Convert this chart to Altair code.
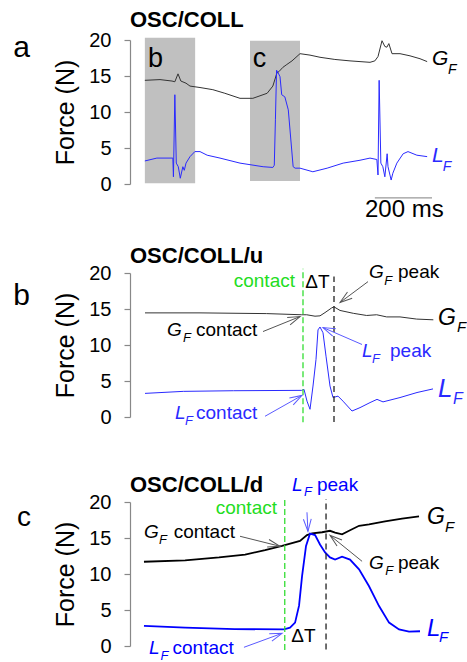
import math
import altair as alt
import pandas as pd

FONT = "Liberation Sans"
W, H = 310, 144          # plot area of every panel
FMAX = 20                # force axis 0..20 N

BLACK = "#000000"
DARK = "#333333"
BLUE = "#2a2aff"
BLUE_C = "#0000ff"
GREEN = "#22dd22"
GRAY_ARROW = "#555555"
BLUE_ARROW = "#5a5aff"

# ---------------- panel a : whole trial (time in ms) ----------------
A_XMAX = 1085
A_GF_T = [52, 105, 147, 157, 168, 178, 196, 210, 245, 290, 332, 385, 430, 480, 500, 514,
          521, 535, 549, 567, 595, 630, 665, 717, 770, 840, 857, 868, 882, 892, 899, 906,
          917, 945, 980, 1015, 1040]
A_GF_F = [14.4, 14.5, 14.3, 14.2, 15.3, 14.3, 14.0, 13.6, 13.4, 13.1, 12.6, 11.9, 11.9, 12.6,
          13.6, 15.4, 15.6, 16.2, 16.6, 17.1, 18.1, 17.9, 17.6, 17.3, 17.1, 16.9, 17.1, 17.7,
          19.9, 19.1, 19.0, 19.5, 18.1, 18.1, 17.8, 17.4, 17.0]
A_LF_T = [52, 94, 150, 152, 157, 162, 169, 176, 185, 190, 196, 210, 227, 245, 270, 315, 385,
          466, 500, 505, 509, 513, 519, 525, 531, 542, 554, 571, 578, 595, 640, 690, 746,
          805, 840, 864, 868, 872, 878, 885, 892, 900, 903, 914, 920, 934, 956, 973, 1004,
          1040]
A_LF_F = [3.2, 3.6, 3.6, 1.0, 12.4, 2.9, 2.4, 0.8, 2.4, 1.9, 2.9, 3.8, 4.5, 4.5, 4.0, 3.6,
          2.9, 2.4, 2.3, 2.6, 9.0, 15.8, 15.4, 14.9, 12.4, 12.1, 10.3, 2.4, 2.2, 2.2, 1.7,
          2.2, 2.9, 3.3, 3.6, 3.4, 1.25, 14.4, 2.9, 2.4, 1.0, 4.2, 2.4, 0.55, 1.5, 2.9, 4.2,
          4.5, 4.0, 3.8]
# shaded windows that are enlarged in panels b and c
A_BOX_T0 = [52, 420]
A_BOX_T1 = [228, 595]
A_BOX_F0 = [0.1, 0.4]
A_BOX_F1 = [20.3, 19.9]
# 200 ms scale bar
A_BAR_T = [857, 1057]
A_BAR_F = -1.94

# ---------------- panel b : upward collision (ms) ----------------
B_XMAX = 186
B_GF_T = [9, 42, 82, 103, 106, 111, 114, 117, 121, 122.4, 126, 134, 142, 148, 154, 162, 172, 182]
B_GF_F = [14.46, 14.46, 14.36, 14.2, 14.2, 14.0, 14.05, 14.5, 15.15, 15.3, 14.8, 14.4, 14.1,
          14.2, 13.9, 13.9, 13.6, 13.5]
B_LF_T = [9, 32, 62, 103, 104.4, 106.2, 108, 109.8, 111.6, 112.8, 114, 115.8, 117.6, 120,
          121.8, 124.8, 127.8, 133.2, 138, 144, 148.2, 151.8, 162, 172.2, 181.8]
B_LF_F = [3.28, 3.56, 3.65, 3.7, 3.84, 2.2, 1.07, 4.3, 8.0, 12.1, 12.5, 11.7, 8.45, 4.3, 2.7,
          2.9, 2.2, 0.83, 1.3, 2.0, 2.45, 2.1, 2.7, 3.4, 3.9]
B_CONTACT_T = 103.8
B_PEAK_T = 122.4

# ---------------- panel c : downward collision (ms) ----------------
C_XMAX = 195.3
C_GF_T = [8.8, 34.7, 56.1, 72.5, 85.1, 95.8, 107.1, 111.5, 114.7, 121, 126, 129.2, 133.6,
          138, 144.3, 150.6, 160.7, 171.4, 182.1]
C_GF_F = [11.7, 11.9, 12.3, 12.7, 13.3, 13.9, 14.6, 15.4, 15.65, 15.8, 16.0, 15.75, 15.5,
          16.0, 16.7, 16.9, 17.3, 17.7, 18.0]
C_LF_T = [8.8, 34.7, 66, 97, 100.8, 104, 106.5, 108.4, 110.9, 113.4, 116.6, 119.7, 122.9,
          126, 129.2, 133.6, 138.6, 144.3, 150.6, 156.9, 163.2, 169.5, 175.8, 182.7]
C_LF_F = [2.8, 2.55, 2.35, 2.3, 2.55, 3.25, 5.6, 9.7, 13.9, 15.6, 15.4, 14.1, 13.0, 12.3,
          12.0, 12.4, 12.0, 10.65, 8.3, 5.55, 3.25, 2.3, 2.0, 2.05]
C_CONTACT_T = 97.5
C_PEAK_T = 123.5

# annotation texts: (time, force, text, colour, font size, kind)
# kind: b = bold, n = normal, i = italic, r = right aligned, c = centred
A_TEXT = [
    (0, 21.8, "OSC/COLL", BLACK, 22, "b"),
    (-409, 17.6, "a", BLACK, 30, "n"),
    (63, 16.25, "b", BLACK, 27, "n"),
    (430, 16.25, "c", BLACK, 27, "n"),
    (1057, 16.5, "G", BLACK, 21, "i"), (1113, 15.3, "F", BLACK, 14, "i"),
    (1057, 3.06, "L", BLUE, 21, "i"), (1095, 1.8, "F", BLUE, 14, "i"),
    (960, -4.54, "200 ms", BLACK, 24, "c"),
]
B_TEXT = [
    (0, 21.43, "OSC/COLL/u", BLACK, 22, "b"),
    (-70, 15.6, "b", BLACK, 30, "n"),
    (99, 18.1, "contact", GREEN, 19, "r"),
    (112.5, 17.96, "ΔT", BLACK, 19, "c"),
    (143.4, 19.35, "G", BLACK, 19, "i"), (152.6, 18.4, "F", BLACK, 13, "i"),
    (160.8, 19.35, "peak", BLACK, 19, "n"),
    (22.2, 11.2, "G", BLACK, 19, "i"), (31.8, 10.45, "F", BLACK, 13, "i"),
    (39.6, 11.2, "contact", BLACK, 19, "n"),
    (27, -0.32, "L", BLUE, 19, "i"), (33, -1.15, "F", BLUE, 13, "i"),
    (39.6, -0.32, "contact", BLUE, 19, "n"),
    (139.2, 8.27, "L", BLUE, 19, "i"), (145.2, 7.44, "F", BLUE, 13, "i"),
    (156, 8.27, "peak", BLUE, 19, "n"),
    (184.8, 12.84, "G", BLACK, 23, "i"), (196.2, 11.87, "F", BLACK, 15, "i"),
    (184.8, 2.73, "L", BLUE, 26, "i"), (193.8, 1.76, "F", BLUE, 16, "i"),
]
C_TEXT = [
    (0, 21.35, "OSC/COLL/d", BLACK, 22, "b"),
    (-71.2, 16.6, "c", BLACK, 28, "n"),
    (92.6, 18.3, "contact", GREEN, 19, "r"),
    (102, 21.5, "L", BLUE_C, 19, "i"), (109.6, 20.8, "F", BLUE_C, 13, "i"),
    (117.8, 21.5, "peak", BLUE_C, 19, "n"),
    (8.8, 14.96, "G", BLACK, 19, "i"), (18.2, 14.1, "F", BLACK, 13, "i"),
    (27.5, 14.96, "contact", BLACK, 19, "n"),
    (150.6, 10.65, "G", BLACK, 19, "i"), (160.8, 9.8, "F", BLACK, 13, "i"),
    (168.8, 10.65, "peak", BLACK, 19, "n"),
    (109.3, 0.56, "ΔT", BLACK, 19, "c"),
    (12, -1.15, "L", BLUE_C, 19, "i"), (19.2, -2.0, "F", BLUE_C, 13, "i"),
    (26.8, -1.15, "contact", BLUE_C, 19, "n"),
    (187.1, 16.9, "G", BLACK, 23, "i"), (198.5, 15.9, "F", BLACK, 15, "i"),
    (187.1, 1.35, "L", BLUE_C, 24, "i"), (194.7, 0.51, "F", BLUE_C, 15, "i"),
]

# arrows: (from time, from force, to time, to force, colour)
B_ARROWS = [
    (142.8, 18.8, 126, 15.9, GRAY_ARROW),
    (79.8, 11.87, 102, 13.95, GRAY_ARROW),
    (81, 0.1, 103.2, 3.0, BLUE_ARROW),
    (139.2, 10.07, 115.8, 12.42, BLUE_ARROW),
]
C_ARROWS = [
    (111.5, 18.57, 112.1, 15.93, BLUE_ARROW),
    (69.3, 15.24, 94.5, 13.85, GRAY_ARROW),
    (146.2, 11.76, 126, 15.37, GRAY_ARROW),
    (71.8, -0.18, 95.8, 1.76, BLUE_ARROW),
]

CHEVRON = "M -1 -0.32 L 0 0 L -1 0.32"

FORCE_AXIS = alt.Axis(values=[0, 5, 10, 15, 20], title="Force (N)", titleFont=FONT,
                      titleFontSize=25, titleFontWeight="normal", titleColor=BLACK,
                      titlePadding=10, labelFont=FONT, labelFontSize=20, labelColor=BLACK,
                      labelPadding=13, domainColor="#888888", tickColor="#888888",
                      tickSize=6, domainWidth=1.2, tickWidth=1.2, grid=False)


def xenc(field, xmax):
    return alt.X(field, type="quantitative",
                 scale=alt.Scale(domain=[0, xmax], nice=False, zero=False), axis=None)


def yenc(field):
    return alt.Y(field, type="quantitative",
                 scale=alt.Scale(domain=[0, FMAX], nice=False, zero=False), axis=FORCE_AXIS)


def trace(ts, fs, xmax, color, width):
    df = pd.DataFrame({"t": ts, "f": fs})
    return alt.Chart(df).mark_line(color=color, strokeWidth=width).encode(
        x=xenc("t", xmax), y=yenc("f"))


def texts(rows, xmax):
    df = pd.DataFrame(rows, columns=["t", "f", "txt", "col", "fs", "kind"])
    layers = []
    styles = {
        "b": dict(align="left", fontWeight="bold"),
        "n": dict(align="left"),
        "i": dict(align="left", fontStyle="italic"),
        "r": dict(align="right"),
        "c": dict(align="center"),
    }
    for kind, kw in styles.items():
        sub = df[df["kind"] == kind]
        if sub.empty:
            continue
        layers.append(alt.Chart(sub).mark_text(baseline="alphabetic", font=FONT, **kw).encode(
            x=xenc("t", xmax), y=yenc("f"), text="txt:N",
            color=alt.Color("col:N", scale=None), size=alt.Size("fs:Q", scale=None)))
    return layers


def arrows(rows, xmax):
    recs = []
    for t0, f0, t1, f1, col in rows:
        dx = (t1 - t0) * W / xmax
        dy = -(f1 - f0) * H / FMAX
        recs.append(dict(t0=t0, f0=f0, t1=t1, f1=f1, col=col,
                         ang=math.degrees(math.atan2(dy, dx)) % 360))
    df = pd.DataFrame(recs)
    shaft = alt.Chart(df).mark_rule(strokeWidth=1).encode(
        x=xenc("t0", xmax), y=yenc("f0"), x2="t1", y2="f1",
        color=alt.Color("col:N", scale=None))
    head = alt.Chart(df).mark_point(shape=CHEVRON, filled=False, size=600, strokeWidth=1,
                                    opacity=1).encode(
        x=xenc("t1", xmax), y=yenc("f1"), angle=alt.Angle("ang:Q", scale=None),
        color=alt.Color("col:N", scale=None))
    return [shaft, head]


def vline(t, f0, f1, color, xmax, dash):
    df = pd.DataFrame({"t": [t], "f0": [f0], "f1": [f1]})
    return alt.Chart(df).mark_rule(color=color, strokeWidth=1.3, strokeDash=dash).encode(
        x=xenc("t", xmax), y=yenc("f0"), y2="f1")


# ---- panel a
boxes = pd.DataFrame({"t0": A_BOX_T0, "t1": A_BOX_T1, "f0": A_BOX_F0, "f1": A_BOX_F1})
box_layer = alt.Chart(boxes).mark_rect(color="#c0c0c0").encode(
    x=xenc("t0", A_XMAX), x2="t1", y=yenc("f0"), y2="f1")
bar = pd.DataFrame({"t0": [A_BAR_T[0]], "t1": [A_BAR_T[1]], "f": [A_BAR_F]})
bar_layer = alt.Chart(bar).mark_rule(color="#999999", strokeWidth=1.2).encode(
    x=xenc("t0", A_XMAX), x2="t1", y=yenc("f"))
panel_a = alt.layer(
    box_layer,
    trace(A_GF_T, A_GF_F, A_XMAX, DARK, 1),
    trace(A_LF_T, A_LF_F, A_XMAX, BLUE, 1),
    bar_layer,
    *texts(A_TEXT, A_XMAX),
).properties(width=W, height=H)

# ---- panel b
panel_b = alt.layer(
    trace(B_GF_T, B_GF_F, B_XMAX, DARK, 1),
    trace(B_LF_T, B_LF_F, B_XMAX, BLUE, 1),
    vline(B_CONTACT_T, -0.74, 20.6, "#33dd33", B_XMAX, [6, 3]),
    vline(B_PEAK_T, -0.7, 19.5, "#222222", B_XMAX, [6, 4]),
    *arrows(B_ARROWS, B_XMAX),
    *texts(B_TEXT, B_XMAX),
).properties(width=W, height=H)

# ---- panel c
panel_c = alt.layer(
    trace(C_GF_T, C_GF_F, C_XMAX, BLACK, 1.8),
    trace(C_LF_T, C_LF_F, C_XMAX, BLUE_C, 1.8),
    vline(C_CONTACT_T, -0.55, 20.6, "#33dd33", C_XMAX, [6, 3]),
    vline(C_PEAK_T, -0.5, 20.4, "#222222", C_XMAX, [6, 4]),
    *arrows(C_ARROWS, C_XMAX),
    *texts(C_TEXT, C_XMAX),
).properties(width=W, height=H)

chart = alt.vconcat(
    panel_a,
    alt.vconcat(panel_b, panel_c, spacing=85, bounds="flush"),
    spacing=89, bounds="flush",
).properties(
    padding={"left": 13, "top": 9, "right": 0, "bottom": 0},
).configure_view(stroke=None)

chart.save("out.html", embed_options={"renderer": "svg", "actions": False})
